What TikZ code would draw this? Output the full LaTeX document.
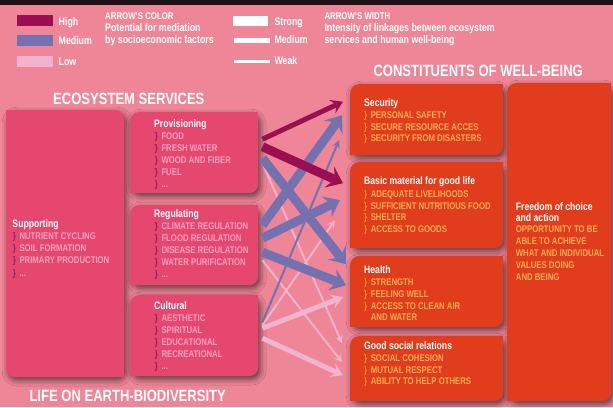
\documentclass[tikz,border=0pt]{standalone}
\usepackage{fontspec}
\setmainfont{Liberation Sans}[FakeStretch=0.8]
\usetikzlibrary{arrows.meta,shadows.blur}
\definecolor{bgpink}{HTML}{EE8697}
\definecolor{topband}{HTML}{1E1218}
\definecolor{lbox}{HTML}{E5476F}
\definecolor{ltext}{HTML}{F6A1C0}
\definecolor{lbrk}{HTML}{8B1D6A}
\definecolor{rbox}{HTML}{E13C1B}
\definecolor{rtext}{HTML}{F8AE55}
\definecolor{rbrk}{HTML}{F49A1C}
\definecolor{highc}{HTML}{9A0F52}
\definecolor{medc}{HTML}{7471B1}
\definecolor{lowc}{HTML}{F2B3CE}
\newcommand\brL{\makebox[6.6pt][l]{\textcolor{lbrk}{\}}}}
\newcommand\brR{\makebox[6.6pt][l]{\textcolor{rbrk}{\}}}}
\begin{document}
\begin{tikzpicture}[x=1pt,y=-1pt,
  boxsh/.style={blur shadow={shadow xshift=2pt,shadow yshift=-3pt,shadow blur radius=6pt,shadow opacity=60}},
  lboxst/.style={fill=lbox, rounded corners=9pt, inner sep=0pt, anchor=north west, boxsh},
  rboxst/.style={fill=rbox, rounded corners=9pt, inner sep=0pt, anchor=north west, boxsh},
  swatch/.style={inner sep=0pt, anchor=north west, minimum width=36pt, minimum height=10.7pt},
  wsw/.style={inner sep=0pt, anchor=north west, fill=white, minimum width=35.3pt},
  lbl/.style={inner sep=0pt, anchor=base west, text=white, font=\bfseries\fontsize{11}{12}\selectfont},
  lhead/.style={inner sep=0pt, anchor=base west, text=white, font=\bfseries\fontsize{9.8}{12}\selectfont},
  hdr/.style={inner sep=0pt, anchor=base west, text=white, font=\bfseries\fontsize{16.3}{18}\selectfont},
  ttl/.style={inner sep=0pt, anchor=base west, text=white, font=\bfseries\fontsize{10.8}{12}\selectfont},
  litems/.style={inner sep=0pt, anchor=north west, align=left, text=ltext, font=\bfseries\fontsize{9.7}{12.1}\selectfont},
  ritems/.style={inner sep=0pt, anchor=north west, align=left, text=rtext, font=\bfseries\fontsize{9.7}{11.8}\selectfont},
  hi/.style={draw=highc}, me/.style={draw=medc}, lo/.style={draw=lowc},
  wS/.style={line width=9pt, -{Stealth[length=15pt,width=23pt,inset=6pt,line width=0pt]}},
  wM/.style={line width=5pt, -{Stealth[length=12pt,width=15pt,inset=5pt,line width=0pt]}},
  wW/.style={line width=2pt, -{Stealth[length=8pt,width=8pt,inset=3pt,line width=0pt]}}
]
\useasboundingbox (0,0) rectangle (613,407);
\fill[bgpink] (0,0) rectangle (613,407);
\fill[topband] (0,0) rectangle (613,4.7);

% legend
\node[swatch, fill=highc] (swH) at (16.7,15) {};
\node[swatch, fill=medc] (swM) at (16.7,35) {};
\node[swatch, fill=lowc] (swL) at (16.7,56) {};
\node[lbl] (tH) at (58.5,25) {High};
\node[lbl] (tM) at (58.5,44.3) {Medium};
\node[lbl] (tL) at (58.5,65) {Low};
\node[lhead] (ch1) at (105,19.3) {ARROW'S COLOR};
\node[lbl] (ch2) at (105,31.3) {Potential for mediation};
\node[lbl] (ch3) at (105,43.5) {by socioeconomic factors};
\node[wsw, minimum height=10pt] (wS1) at (232.5,15.7) {};
\node[wsw, minimum height=5pt] (wM1) at (234,37.7) {};
\node[wsw, minimum height=2.3pt] (wW1) at (234,60.2) {};
\node[lbl] (tS) at (274.3,25.3) {Strong};
\node[lbl] (tM2) at (274.3,43.7) {Medium};
\node[lbl] (tW) at (274.3,64.3) {Weak};
\node[lhead] (wh1) at (324.3,19.3) {ARROW'S WIDTH};
\node[lbl] (wh2) at (324.3,31.5) {Intensity of linkages between ecosystem};
\node[lbl] (wh3) at (324.3,43.7) {services and human well-being};

% headers
\node[hdr] (hES) at (53,104) {ECOSYSTEM SERVICES};
\node[hdr] (hCW) at (373.3,76.7) {CONSTITUENTS OF WELL-BEING};
\node[hdr] (hLE) at (29.3,401.7) {LIFE ON EARTH-BIODIVERSITY};

% left boxes
\node[lboxst, minimum width=118pt, minimum height=267pt] (sup) at (6,110) {};
\fill[lbox] (sup.north west) rectangle ++(12,12);
\fill[lbox] (sup.south east) rectangle ++(-12,-12);
\node[lboxst, minimum width=128pt, minimum height=81pt] (prov) at (130,112) {};
\fill[lbox] (prov.north east) rectangle ++(-12,12);
\fill[lbox] (prov.south west) rectangle ++(12,-12);
\node[lboxst, minimum width=128pt, minimum height=80pt] (reg) at (130,205) {};
\fill[lbox] (reg.north east) rectangle ++(-12,12);
\fill[lbox] (reg.south west) rectangle ++(12,-12);
\node[lboxst, minimum width=128pt, minimum height=81pt] (cult) at (130,295) {};
\fill[lbox] (cult.north east) rectangle ++(-12,12);
\fill[lbox] (cult.south west) rectangle ++(12,-12);

% right boxes
\node[rboxst, minimum width=153pt, minimum height=71pt] (sec) at (350,84) {};
\fill[rbox] (sec.north east) rectangle ++(-12,12);
\fill[rbox] (sec.south west) rectangle ++(12,-12);
\node[rboxst, minimum width=153pt, minimum height=86pt] (bas) at (350,162) {};
\fill[rbox] (bas.north east) rectangle ++(-12,12);
\fill[rbox] (bas.south west) rectangle ++(12,-12);
\node[rboxst, minimum width=153pt, minimum height=71pt] (hea) at (350,256) {};
\fill[rbox] (hea.north east) rectangle ++(-12,12);
\fill[rbox] (hea.south west) rectangle ++(12,-12);
\node[rboxst, minimum width=153pt, minimum height=65pt] (soc) at (350,336) {};
\fill[rbox] (soc.north east) rectangle ++(-12,12);
\fill[rbox] (soc.south west) rectangle ++(12,-12);
\node[rboxst, minimum width=104pt, minimum height=318pt] (fre) at (507,83) {};
\fill[rbox] (fre.north east) rectangle ++(-12,12);
\fill[rbox] (fre.south west) rectangle ++(12,-12);

% left texts
\node[ttl] (supT) at (12.3,227.7) {Supporting};
\node[litems] (supI) at (12.7,232.5) {\brL NUTRIENT CYCLING\\ \brL SOIL FORMATION\\ \brL PRIMARY PRODUCTION\\ \brL ...};
\node[ttl] (provT) at (154,127) {Provisioning};
\node[litems] (provI) at (154.7,132) {\brL FOOD\\ \brL FRESH WATER\\ \brL WOOD AND FIBER\\ \brL FUEL\\ \brL ...};
\node[ttl] (regT) at (154,217.7) {Regulating};
\node[litems] (regI) at (154.7,222) {\brL CLIMATE REGULATION\\ \brL FLOOD REGULATION\\ \brL DISEASE REGULATION\\ \brL WATER PURIFICATION\\ \brL ...};
\node[ttl] (cultT) at (154,309.7) {Cultural};
\node[litems] (cultI) at (154.7,314) {\brL AESTHETIC\\ \brL SPIRITUAL\\ \brL EDUCATIONAL\\ \brL RECREATIONAL\\ \brL ...};

% right texts
\node[ttl] (secT) at (364,106.7) {Security};
\node[ritems] (secI) at (364,111) {\brR PERSONAL SAFETY\\ \brR SECURE RESOURCE ACCES\\ \brR SECURITY FROM DISASTERS};
\node[ttl] (basT) at (364,184.4) {Basic material for good life};
\node[ritems] (basI) at (364,190) {\brR ADEQUATE LIVELIHOODS\\ \brR SUFFICIENT NUTRITIOUS FOOD\\ \brR SHELTER\\ \brR ACCESS TO GOODS};
\node[ttl] (heaT) at (364,273.7) {Health};
\node[ritems] (heaI) at (364,278.3) {\brR STRENGTH\\ \brR FEELING WELL\\ \brR ACCESS TO CLEAN AIR\\ \hspace*{6.6pt}AND WATER};
\node[ttl] (socT) at (364,349.4) {Good social relations};
\node[ritems] (socI) at (364,354) {\brR SOCIAL COHESION\\ \brR MUTUAL RESPECT\\ \brR ABILITY TO HELP OTHERS};
\node[ttl, anchor=north west, align=left, font=\bfseries\fontsize{10.8}{11}\selectfont] (freT) at (515.7,202) {Freedom of choice\\ and action};
\node[ritems, font=\bfseries\fontsize{9.7}{12.1}\selectfont] (freI) at (515.7,225.5) {OPPORTUNITY TO BE\\ ABLE TO ACHIEVE\\ WHAT AND INDIVIDUAL\\ VALUES DOING\\ AND BEING};

% arrows
\draw[lo, wW] ([shift={(4,10.5)}]prov.east) -- ([shift={(-8,-25.5)}]soc.west);
\draw[lo, wW] ([shift={(4,15)}]reg.east) -- ([shift={(-8,-6.5)}]soc.west);
\draw[lo, wW] ([shift={(4,-10.5)}]cult.east) -- ([shift={(-15,15)}]bas.west);
\draw[lo, wM] ([shift={(4,-7.5)}]cult.east) -- ([shift={(-7,5.5)}]hea.west);
\draw[lo, wM] ([shift={(4,2.5)}]cult.east) -- ([shift={(-7,6.5)}]soc.west);
\draw[me, wW] ([shift={(4,-13.5)}]cult.east) -- ([shift={(-11,20.5)}]sec.west);
\draw[me, wS] ([shift={(4,5.5)}]prov.east) -- ([shift={(-4,-27.5)}]hea.west);
\draw[me, wS] ([shift={(4,-20)}]reg.east) -- ([shift={(-8,-4.5)}]sec.west);
\draw[me, wS] ([shift={(4,-7)}]reg.east) -- ([shift={(-10,-5)}]bas.west);
\draw[me, wS] ([shift={(4,7)}]reg.east) -- ([shift={(-4,-6.5)}]hea.west);
\draw[hi, wM] ([shift={(4,-13.5)}]prov.east) -- ([shift={(-7,-18)}]sec.west);
\draw[hi, wS] ([shift={(4,-6)}]prov.east) -- ([shift={(-7,-22)}]bas.west);
\end{tikzpicture}
\end{document}
